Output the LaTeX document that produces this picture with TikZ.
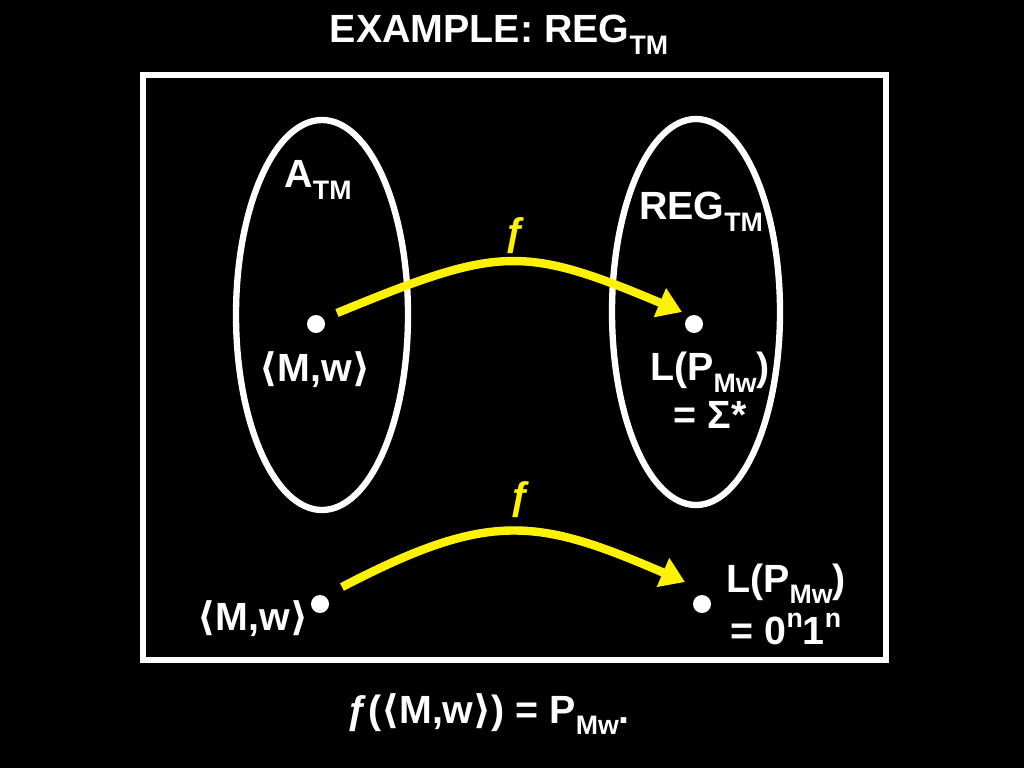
\documentclass[tikz,border=0pt]{standalone}
\usepackage{fontspec}
\setmainfont{Liberation Sans}
\newfontfamily\dejavu{DejaVu Sans}
\usetikzlibrary{arrows.meta}
\newcommand{\lan}{{\dejavu ⟨}}
\newcommand{\ran}{{\dejavu ⟩}}
\newcommand{\lo}[1]{\raisebox{-0.3em}{\fontsize{19}{20}\selectfont #1}}
\newcommand{\hi}[1]{\raisebox{0.42em}{\fontsize{19}{20}\selectfont #1}}

\begin{document}
\begin{tikzpicture}[x=0.025cm,y=-0.025cm,
  txt/.style={text=white,font=\fontsize{28}{32}\selectfont\bfseries,inner sep=0pt,align=center},
  ftxt/.style={text=yellow,font=\fontsize{28}{32}\selectfont\bfseries,inner sep=0pt},
  dot/.style={circle,fill=white,minimum size=0.45cm,inner sep=0pt},
  farrow/.style={yellow,line width=6pt,-{Triangle[length=0.6cm,width=0.75cm]}}]
\fill[black] (0,0) rectangle (1024,768);
\useasboundingbox (0,0) rectangle (1024,768);
% frame and the two sets
\draw[white,line width=4.5pt] (143,75) rectangle (886,660);
\draw[white,line width=4.5pt] (322,315) ellipse [x radius=86, y radius=195];
\draw[white,line width=4.5pt] (696,312) ellipse [x radius=84, y radius=193];
% labels
\node[txt] (title) at (499,35) {EXAMPLE: REG\lo{TM}};
\node[txt] (atm) at (318,180) {A\lo{TM}};
\node[txt] (regtm) at (701,212) {REG\lo{TM}};
% top instance
\node[dot] (ldot) at (316,324) {};
\node[dot] (rdot) at (694,324) {};
\node[txt] (lmw) at (315,370) {\lan M,w\ran};
\node[txt] (rlang) at (710,390) {L(P\lo{Mw})\\[2pt]= Σ*};
\coordinate (s1) at (337,313);
\coordinate (e1) at (682,312);
\draw[farrow] (s1) .. controls (498,247) and (521,244) .. (e1);
\node[ftxt] (f1) at (515,236) {ƒ};
% bottom instance
\node[dot] (bldot) at (320,604) {};
\node[dot] (brdot) at (702,604) {};
\node[txt] (bmw) at (253,619) {\lan M,w\ran};
\node[txt] (blang) at (786,604) {L(P\lo{Mw})\\[5pt]= 0\hi{n}1\hi{n}};
\coordinate (s2) at (342,587);
\coordinate (e2) at (685,582);
\draw[farrow] (s2) .. controls (490,510) and (537,518) .. (e2);
\node[ftxt] (f2) at (520,500) {ƒ};
% mapping
\node[txt] (map) at (488,714) {ƒ(\lan M,w\ran) = P\lo{Mw}.};
\end{tikzpicture}
\end{document}
